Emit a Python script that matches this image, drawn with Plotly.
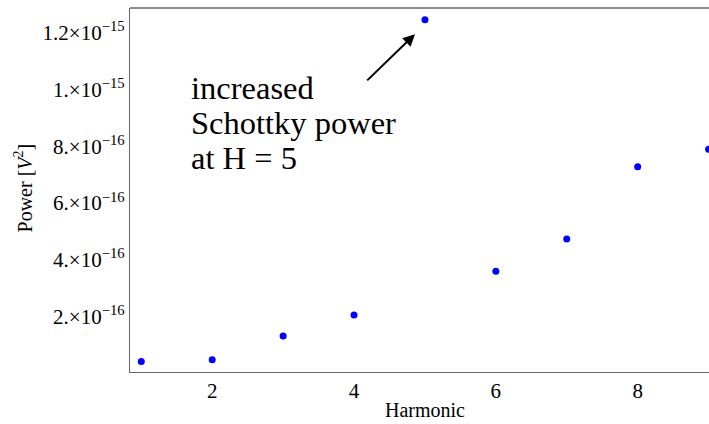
import plotly.graph_objects as go

harmonic = [1, 2, 3, 4, 5, 6, 7, 8, 9]
power = [4.2e-17, 4.8e-17, 1.32e-16, 2.06e-16, 1.246e-15, 3.60e-16, 4.74e-16, 7.28e-16, 7.90e-16]

y_tickvals = [2e-16, 4e-16, 6e-16, 8e-16, 1e-15, 1.2e-15]
y_ticktext = ["2.×10<sup>−16</sup>", "4.×10<sup>−16</sup>", "6.×10<sup>−16</sup>",
              "8.×10<sup>−16</sup>", "1.×10<sup>−15</sup>", "1.2×10<sup>−15</sup>"]
x_tickvals = [2, 4, 6, 8]
x_ticktext = ["2", "4", "6", "8"]

annotation_lines = ["increased", "Schottky power", "at H = 5"]
arrow_head = (4.86, 1.195e-15)
arrow_tail = (4.165, 1.027e-15)

SERIF = "Liberation Serif"

fig = go.Figure()
fig.add_trace(go.Scatter(
    x=harmonic, y=power, mode="markers",
    marker=dict(color="#0000FF", size=7),
    showlegend=False, cliponaxis=True,
))

fig.update_layout(
    width=709, height=424,
    margin=dict(l=130, r=0, t=8, b=52),
    paper_bgcolor="white", plot_bgcolor="white",
    font=dict(family=SERIF, color="black"),
    xaxis=dict(range=[0.8406, 9.006], tickvals=x_tickvals, ticktext=x_ticktext,
               showgrid=False, zeroline=False, showline=True, linecolor="#666",
               linewidth=1.3, mirror=False, ticks="", tickfont=dict(size=21, family=SERIF)),
    yaxis=dict(range=[0.0053e-15, 1.287e-15], tickvals=y_tickvals, ticktext=y_ticktext,
               showgrid=False, zeroline=False, showline=True, linecolor="#666",
               linewidth=1.3, ticks="", tickfont=dict(size=21, family=SERIF)),
)

# top frame line
fig.add_shape(type="line", xref="paper", yref="paper", x0=0, x1=1.01, y0=1, y1=1,
              line=dict(color="#666", width=1.3))

# axis titles
fig.add_annotation(text="Harmonic", xref="paper", yref="paper", x=0.5095, y=-0.104,
                   showarrow=False, font=dict(size=20, family=SERIF), xanchor="center", yanchor="middle")
fig.add_annotation(text="Power [<i>V</i><sup>2</sup>]", xref="paper", yref="paper", x=-0.184, y=0.5055,
                   textangle=-90, showarrow=False, font=dict(size=20, family=SERIF),
                   xanchor="center", yanchor="middle")

# arrow
fig.add_annotation(x=arrow_head[0], y=arrow_head[1], ax=arrow_tail[0], ay=arrow_tail[1],
                   xref="x", yref="y", axref="x", ayref="y", text="", showarrow=True,
                   arrowhead=2, arrowsize=1.2, arrowwidth=2, arrowcolor="black")

# annotation text lines (baselines at ~98, 133, 168 px)
line_centers_px = [88, 123, 158]
for txt, cy in zip(annotation_lines, line_centers_px):
    fig.add_annotation(text=txt, xref="paper", yref="paper",
                       x=(189 - 130) / 579, y=(372 - cy) / 364,
                       showarrow=False, xanchor="left", yanchor="middle",
                       font=dict(size=32.5, family=SERIF))

fig.write_html("out.html", config={"displayModeBar": False})
